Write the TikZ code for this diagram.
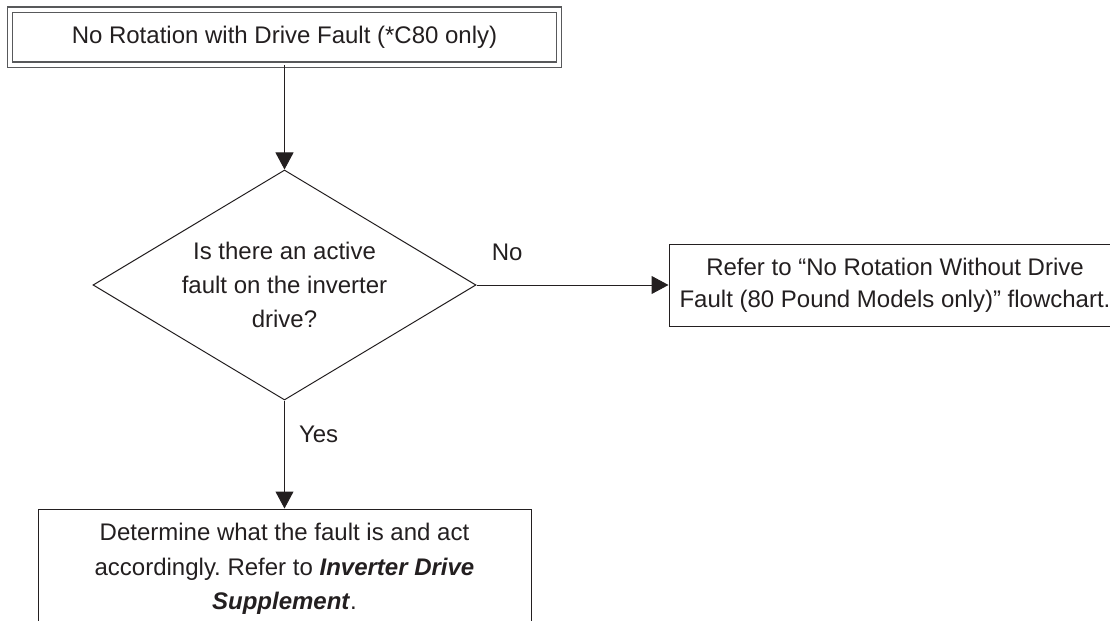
\documentclass[tikz,border=0pt]{standalone}
\usepackage{fontspec}
\setmainfont{Liberation Sans}
\usetikzlibrary{arrows.meta, positioning, shapes.geometric}
\definecolor{fcdark}{HTML}{231F20}
\definecolor{fcgray}{HTML}{58595B}
\frenchspacing
\tikzset{
  startbox/.style={rectangle, draw=fcgray, double, double distance=2pt, line width=0.55pt,
    minimum width=274.5pt, minimum height=27.5pt, font=\fontsize{12}{17}\selectfont, align=center, text=fcdark},
  decision/.style={diamond, draw=fcdark, line width=0.5pt, aspect=1.665, inner sep=0pt,
    minimum width=191.5pt, minimum height=115pt, font=\fontsize{12}{16.8}\selectfont, align=center, text=fcdark},
  action/.style={rectangle, draw=fcdark, line width=0.5pt, font=\fontsize{12}{16}\selectfont,
    align=center, text=fcdark},
  answer/.style={font=\fontsize{12}{14}\selectfont, text=fcdark, inner sep=0pt},
  arr/.style={-{Triangle[length=8.5pt, width=9pt]}, line width=0.5pt, fcdark},
}
\begin{document}
\begin{tikzpicture}[x=0.5pt, y=-0.5pt]
    \useasboundingbox (0,0) rectangle (1110,621);
    \clip (0,0) rectangle (1110,621);
    \node[startbox] (start) at (284.5,37) {No Rotation with Drive Fault (*C80 only)};
    \node[decision] (fault) at (284.5,285) {Is there an active\\ fault on the inverter\\ drive?};
    \node[action, minimum width=226pt, minimum height=41pt, right=96pt of fault] (other)
      {Refer to “No Rotation Without Drive\\ Fault (80 Pound Models only)” flowchart.};
    \node[action, minimum width=246.5pt, minimum height=60pt, below=54pt of fault,
      font=\fontsize{12}{17.25}\selectfont] (supp)
      {Determine what the fault is and act\\ accordingly. Refer to \textbf{\textit{Inverter Drive}}\\ \textbf{\textit{Supplement}}.};
    \draw[arr] (start) -- (fault);
    \draw[arr] (fault) -- node[answer, pos=0.16, yshift=16.5pt]{No} (other);
    \draw[arr] (fault) -- node[answer, pos=0.31, anchor=west, xshift=7pt]{Yes} (supp);
  \end{tikzpicture}
\end{document}
